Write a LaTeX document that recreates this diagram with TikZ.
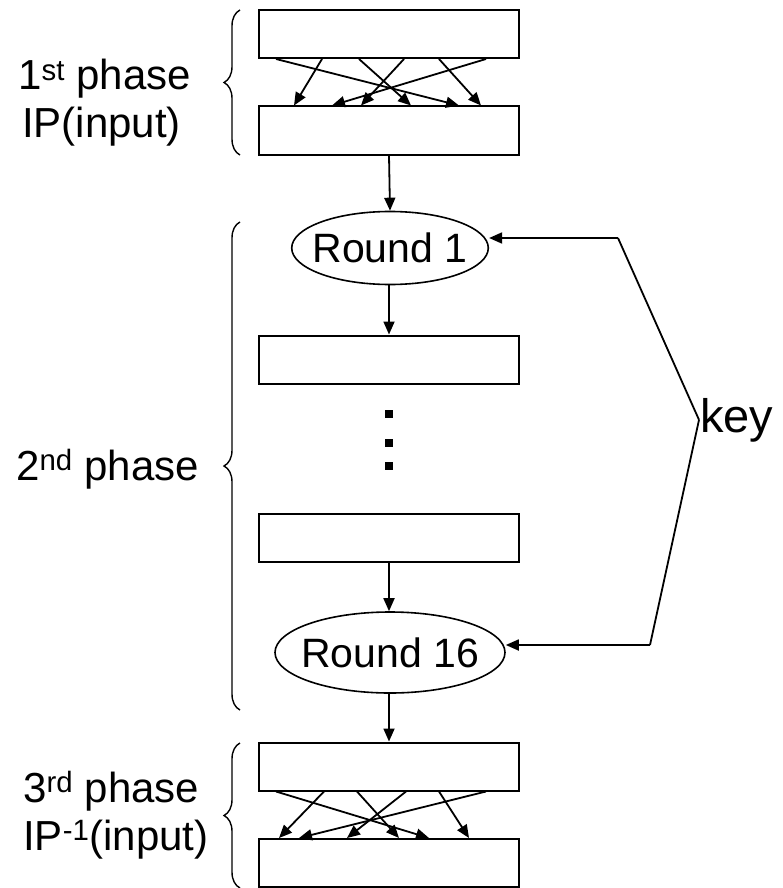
\documentclass[tikz,border=0pt]{standalone}
\usepackage{fontspec}
\setmainfont{Liberation Sans}
\usetikzlibrary{arrows.meta,shapes.geometric,decorations.pathreplacing}
\begin{document}
\begin{tikzpicture}[x=1pt,y=-1pt,
  box/.style={draw,line width=2pt,minimum width=260pt,minimum height=48pt,inner sep=0pt},
  rnd/.style={draw,ellipse,line width=1.6pt,inner ysep=0pt,inner xsep=-8pt,font=\fontsize{41}{48}\selectfont},
  arr/.style={line width=1.8pt,-{Triangle[length=13pt,width=11pt]}},
  ln/.style={line width=1.8pt},
  lbl/.style={anchor=base west,inner sep=0pt,font=\fontsize{42}{50}\selectfont},
  brc/.style={line width=1.4pt,decorate,decoration={brace,amplitude=16pt}},
  dotsq/.style={fill=black,minimum size=8pt,inner sep=0pt}]
\useasboundingbox (0,0) rectangle (783,888);
% boxes
\node[box] (b1) at (389,34) {};
\node[box] (b2) at (389,130.5) {};
\node[rnd,minimum width=196pt,minimum height=73pt] (r1) at (390,248) {Round 1};
\node[box] (b3) at (389,359.5) {};
\node[dotsq] (d1) at (389,414) {};
\node[dotsq] (d2) at (389,443) {};
\node[dotsq] (d3) at (389,466) {};
\node[box] (b4) at (389,538) {};
\node[rnd,minimum width=230pt,minimum height=81pt] (r16) at (390,652.5) {Round 16};
\node[box] (b5) at (389,766.5) {};
\node[box] (b6) at (389,863) {};
% vertical arrows
\draw[arr] (b2.south) -- (r1.north);
\draw[arr] (r1.south -| b3.north) -- (b3.north);
\draw[arr] (b4.south) -- (b4.south |- r16.north);
\draw[arr] (r16.south -| b5.north) -- (b5.north);
% phase 1 permutation
\foreach \s/\e in {18/201,64/36,101/153,146/103,181/223,228/74}
  \draw[arr] ([xshift=\s pt]b1.south west) -- ([xshift=\e pt]b2.north west);
% phase 3 permutation
\foreach \s/\e in {18/171,66/21,99/141,148/89,181/211,228/41}
  \draw[arr] ([xshift=\s pt]b5.south west) -- ([xshift=\e pt]b6.north west);
% key
\node[anchor=base west,inner sep=1pt,font=\fontsize{47}{54}\selectfont] (key) at (699,432) {key};
\coordinate (k1) at (618,238);
\coordinate (k2) at (650,645);
\draw[ln] (key.west) -- (k1);
\draw[arr] (k1) -- (k1 -| r1.east);
\draw[ln] (key.west) -- (k2);
\draw[arr] (k2) -- (k2 -| r16.east);
% braces
\draw[brc] (240,155) -- (240,10);
\draw[brc] (240,710) -- (240,222);
\draw[brc] (240,888) -- (240,743);
% labels
\node[lbl] (l1a) at (18,90) {1\textsuperscript{st} phase};
\node[lbl] (l1b) at (22,137) {IP(input)};
\node[lbl] (l2) at (16,480) {2\textsuperscript{nd} phase};
\node[lbl] (l3a) at (23,802) {3\textsuperscript{rd} phase};
\node[lbl] (l3b) at (23,850) {IP\textsuperscript{-1}(input)};
\end{tikzpicture}
\end{document}
